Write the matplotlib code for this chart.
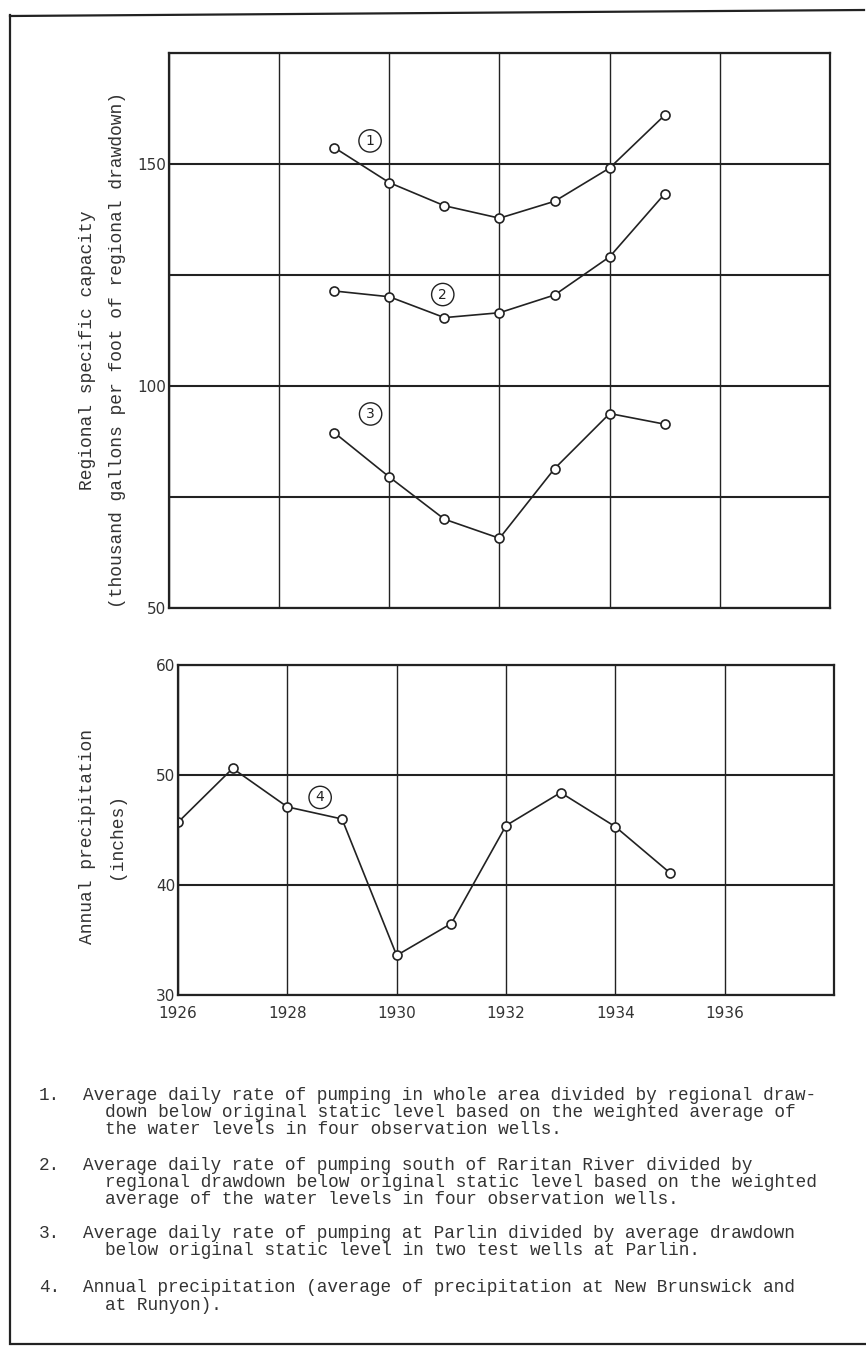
import matplotlib.pyplot as plt
import numpy as np

# --- data ---
years_top = [1929, 1930, 1931, 1932, 1933, 1934, 1935]
curve1 = [153.7, 145.8, 140.6, 137.8, 141.6, 149.1, 161.0]
curve2 = [121.4, 120.1, 115.4, 116.5, 120.5, 129.1, 143.3]
curve3 = [89.5, 79.5, 70.0, 65.7, 81.4, 93.8, 91.4]

years_precip = [1926, 1927, 1928, 1929, 1930, 1931, 1932, 1933, 1934, 1935]
precip = [45.7, 50.6, 47.1, 46.0, 33.6, 36.5, 45.4, 48.4, 45.3, 41.1]

top_yticks = [50, 75, 100, 125, 150, 175]
top_ylabels = ['50', '', '100', '', '150', '']
bot_yticks = [30, 40, 50, 60]
xticks = [1926, 1928, 1930, 1932, 1934, 1936, 1938]
xlabels = ['1926', '1928', '1930', '1932', '1934', '1936', '']

notes = [
    ('1.', ['Average daily rate of pumping in whole area divided by regional draw-',
            'down below original static level based on the weighted average of',
            'the water levels in four observation wells.']),
    ('2.', ['Average daily rate of pumping south of Raritan River divided by',
            'regional drawdown below original static level based on the weighted',
            'average of the water levels in four observation wells.']),
    ('3.', ['Average daily rate of pumping at Parlin divided by average drawdown',
            'below original static level in two test wells at Parlin.']),
    ('4.', ['Annual precipitation (average of precipitation at New Brunswick and',
            'at Runyon).']),
]

W, H = 866, 1348
ink = '#222222'
mono = 'Liberation Mono'

fig = plt.figure(figsize=(W / 100, H / 100), dpi=100)
fig.patch.set_facecolor('white')


def px_axes(l, t, r, b):
    return fig.add_axes([l / W, 1 - b / H, (r - l) / W, (b - t) / H])


def style(ax):
    ax.set_xlim(1926, 1938)
    ax.set_xticks(xticks)
    ax.grid(True, axis='x', color=ink, lw=1.0)
    ax.grid(True, axis='y', color=ink, lw=1.5)
    ax.tick_params(length=0, labelsize=11, labelcolor='#333333', pad=2)
    for s in ax.spines.values():
        s.set_color(ink)
        s.set_linewidth(1.6)


mk = dict(marker='o', ms=6.5, mfc='white', mec=ink, mew=1.2, color=ink, lw=1.2)
circ = dict(boxstyle='circle,pad=0.3', fc='white', ec=ink, lw=1.0)

# top chart
ax1 = px_axes(169, 53, 830, 608)
style(ax1)
ax1.set_ylim(50, 175)
ax1.set_yticks(top_yticks)
ax1.set_yticklabels(top_ylabels)
ax1.set_xticklabels([])
ax1.plot(years_top, curve1, **mk)
ax1.plot(years_top, curve2, **mk)
ax1.plot(years_top, curve3, **mk)
ax1.text(1929.65, 155.2, '1', ha='center', va='center', fontsize=10, color=ink, bbox=circ)
ax1.text(1930.97, 120.6, '2', ha='center', va='center', fontsize=10, color=ink, bbox=circ)
ax1.text(1929.66, 93.7, '3', ha='center', va='center', fontsize=10, color=ink, bbox=circ)

# bottom chart
ax2 = px_axes(178, 665, 834, 995)
style(ax2)
ax2.set_ylim(30, 60)
ax2.set_yticks(bot_yticks)
ax2.set_xticklabels(xlabels)
ax2.tick_params(axis='x', pad=8)
ax2.plot(years_precip, precip, **mk)
ax2.text(1928.6, 47.96, '4', ha='center', va='center', fontsize=10, color=ink, bbox=circ)

# axis titles (typewriter)
fig.text(88 / W, 1 - 350 / H, 'Regional specific capacity', rotation=90,
         ha='center', va='center', family=mono, fontsize=13, color='#333333')
fig.text(117 / W, 1 - 350 / H, '(thousand gallons per foot of regional drawdown)',
         rotation=90, ha='center', va='center', family=mono, fontsize=13, color='#333333')
fig.text(88 / W, 1 - 836 / H, 'Annual precipitation', rotation=90,
         ha='center', va='center', family=mono, fontsize=13, color='#333333')
fig.text(116 / W, 1 - 836 / H, '(inches)', rotation=90,
         ha='center', va='center', family=mono, fontsize=13, color='#333333')

# explanation notes
starts = [1095, 1165, 1233, 1288]
step = 17.5
for (num, lines), y0 in zip(notes, starts):
    fig.text(39 / W, 1 - y0 / H, num, ha='left', va='center',
             family=mono, fontsize=12.8, color='#333333')
    for i, line in enumerate(lines):
        x0 = 83 if i == 0 else 105
        fig.text(x0 / W, 1 - (y0 + i * step) / H, line, ha='left', va='center',
                 family=mono, fontsize=12.8, color='#333333')

# page border
frame = fig.add_axes([0, 0, 1, 1], zorder=-1)
frame.set_xlim(0, W)
frame.set_ylim(H, 0)
frame.axis('off')
frame.plot([10, 10], [15, 1344], color=ink, lw=1.6)
frame.plot([10, 864], [16, 10], color=ink, lw=1.6)
frame.plot([12, 866], [1344, 1344], color=ink, lw=1.6)

fig.savefig('out.png', dpi=100, facecolor=fig.get_facecolor())
